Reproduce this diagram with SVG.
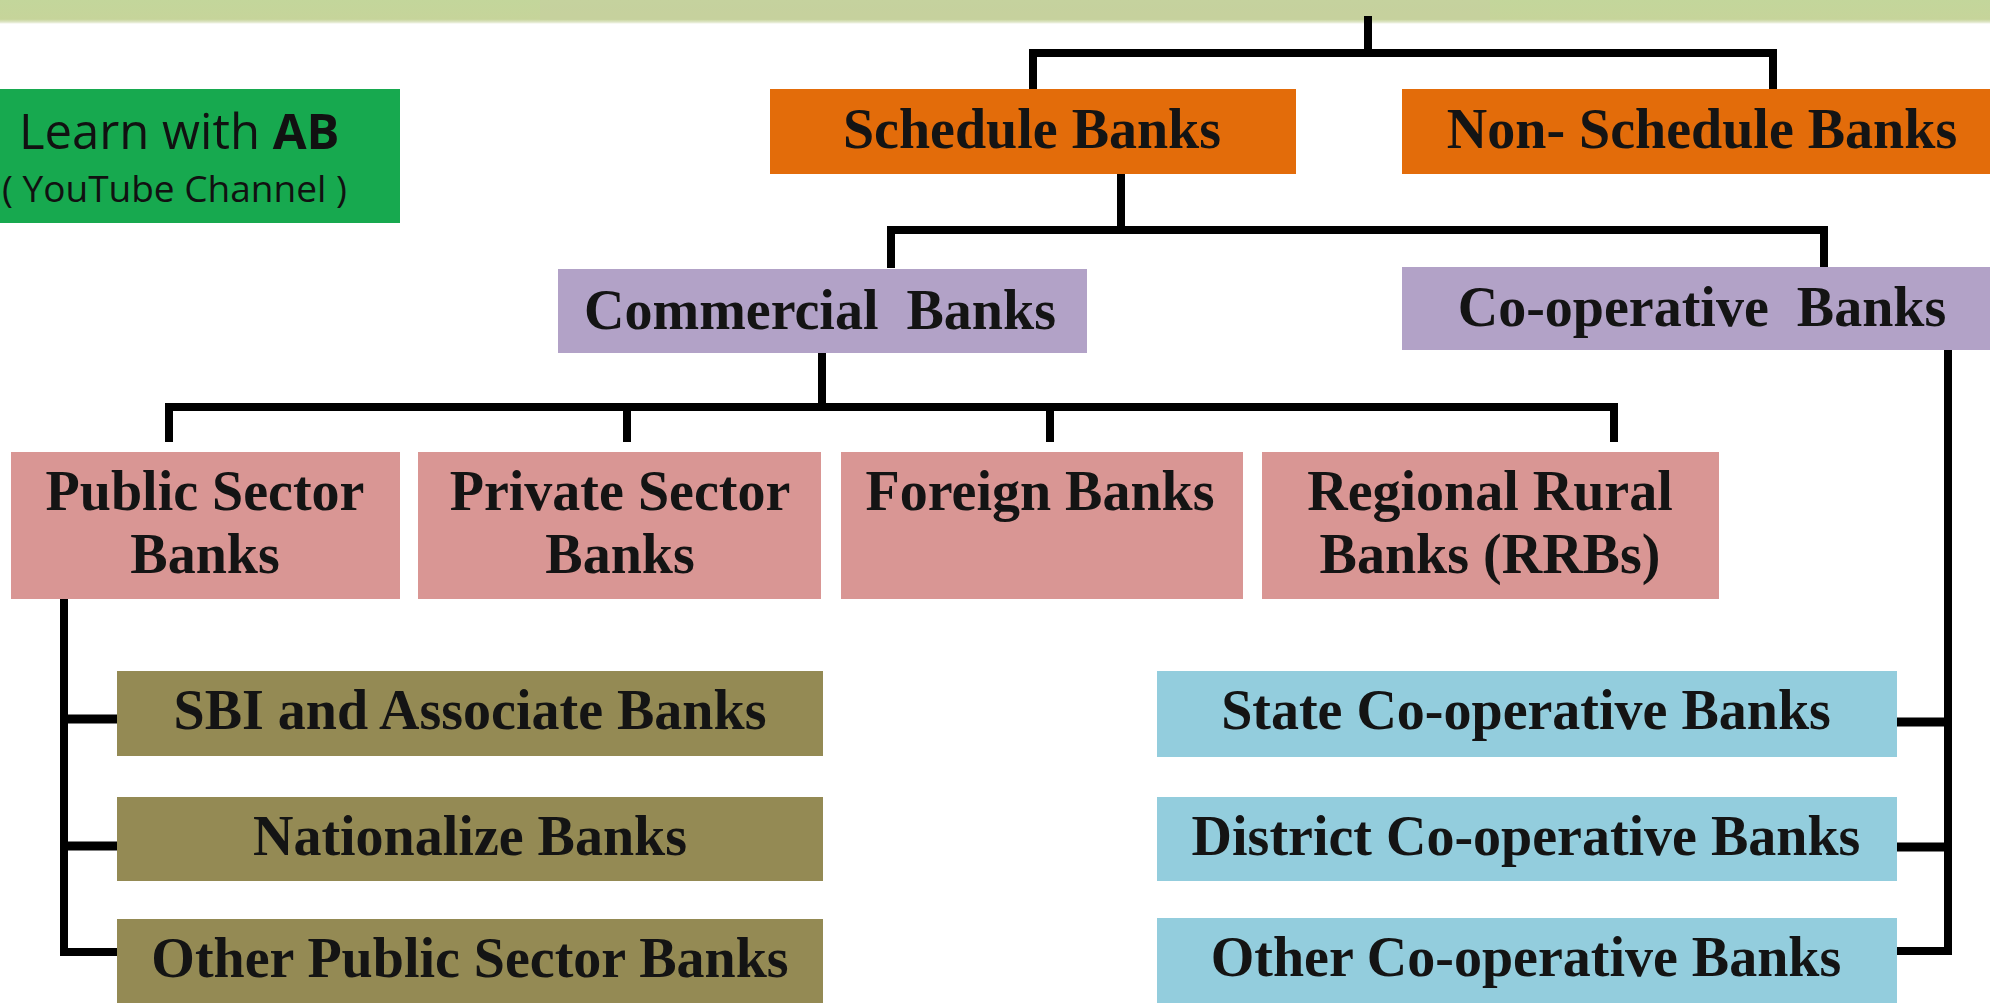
<svg xmlns="http://www.w3.org/2000/svg" width="1990" height="1003" viewBox="0 0 1990 1003">
  <defs>
    <linearGradient id="barFade" x1="0" y1="0" x2="0" y2="1">
      <stop offset="0" stop-color="#c3d69b"/>
      <stop offset="0.8" stop-color="#c6d49a"/>
      <stop offset="0.92" stop-color="#dfe6c8"/>
      <stop offset="1" stop-color="#ffffff"/>
    </linearGradient>
    <style>
      .box { stroke: none; }
      .orange { fill: #e36c0a; }
      .purple { fill: #b2a2c7; }
      .pink { fill: #d99694; }
      .olive { fill: #948a54; }
      .blue { fill: #93cddd; }
      .green { fill: #17a94f; }
      .lbl { font-family: "Liberation Serif", "Times New Roman", serif; font-weight: bold; font-size: 56px; fill: #141414; text-anchor: middle; }
      .sans { font-family: "Open Sans", "Noto Sans", "Liberation Sans", sans-serif; fill: #111; }
      .wire { fill: none; stroke: #000; stroke-width: 8; stroke-linejoin: miter; stroke-linecap: butt; }
      .tick { fill: none; stroke: #000; stroke-width: 9; }
    </style>
  </defs>

  <rect width="1990" height="1003" fill="#ffffff"/>

  <!-- top banner -->
  <g id="banner">
    <rect x="0" y="0" width="1990" height="24" fill="url(#barFade)"/>
    <rect x="540" y="0" width="950" height="20" fill="#c7cfa0" opacity="0.6"/>
  </g>

  <!-- connectors -->
  <g id="connectors">
    <path class="wire" d="M1368,16 V53"/>
    <path class="wire" d="M1033,89 V53 H1773 V89"/>
    <path class="wire" d="M1121,174 V230"/>
    <path class="wire" d="M891,268 V230 H1824 V267"/>
    <path class="wire" d="M822,353 V407"/>
    <path class="wire" d="M169,442 V407 H1614 V442"/>
    <path class="wire" d="M627,407 V442"/>
    <path class="wire" d="M1050,407 V442"/>
    <path class="wire" d="M64,599 V952 H117"/>
    <path class="tick" d="M64,719 H117"/>
    <path class="tick" d="M64,846 H117"/>
    <path class="wire" d="M1948,350 V951 H1897"/>
    <path class="tick" d="M1897,722 H1948"/>
    <path class="tick" d="M1897,847 H1948"/>
  </g>

  <g id="learn-with-ab">
    <rect class="box green" x="-4" y="89" width="404" height="134"/>
    <text class="sans" x="19" y="149" font-size="49">Learn with <tspan font-weight="bold">AB</tspan></text>
    <text class="sans" x="2" y="202" font-size="37">( YouTube Channel )</text>
  </g>

  <g id="schedule-banks">
    <rect class="box orange" x="770" y="89" width="526" height="85"/>
    <text class="lbl" x="1032" y="148">Schedule Banks</text>
  </g>

  <g id="non-schedule-banks">
    <rect class="box orange" x="1402" y="89" width="592" height="85"/>
    <text class="lbl" x="1702" y="148">Non- Schedule Banks</text>
  </g>

  <g id="commercial-banks">
    <rect class="box purple" x="558" y="269" width="529" height="84"/>
    <text class="lbl" x="820" y="329" xml:space="preserve">Commercial  Banks</text>
  </g>

  <g id="co-operative-banks">
    <rect class="box purple" x="1402" y="267" width="592" height="83"/>
    <text class="lbl" x="1702" y="326" xml:space="preserve">Co-operative  Banks</text>
  </g>

  <g id="public-sector-banks">
    <rect class="box pink" x="11" y="452" width="389" height="147"/>
    <text class="lbl" x="205" y="510">Public Sector</text>
    <text class="lbl" x="205" y="573">Banks</text>
  </g>

  <g id="private-sector-banks">
    <rect class="box pink" x="418" y="452" width="403" height="147"/>
    <text class="lbl" x="620" y="510">Private Sector</text>
    <text class="lbl" x="620" y="573">Banks</text>
  </g>

  <g id="foreign-banks">
    <rect class="box pink" x="841" y="452" width="402" height="147"/>
    <text class="lbl" x="1040" y="510">Foreign Banks</text>
  </g>

  <g id="regional-rural-banks">
    <rect class="box pink" x="1262" y="452" width="457" height="147"/>
    <text class="lbl" x="1490" y="510">Regional Rural</text>
    <text class="lbl" x="1490" y="573">Banks (RRBs)</text>
  </g>

  <g id="sbi-associate-banks">
    <rect class="box olive" x="117" y="671" width="706" height="85"/>
    <text class="lbl" x="470" y="729">SBI and Associate Banks</text>
  </g>

  <g id="nationalize-banks">
    <rect class="box olive" x="117" y="797" width="706" height="84"/>
    <text class="lbl" x="470" y="855">Nationalize Banks</text>
  </g>

  <g id="other-public-sector-banks">
    <rect class="box olive" x="117" y="919" width="706" height="90"/>
    <text class="lbl" x="470" y="977">Other Public Sector Banks</text>
  </g>

  <g id="state-co-operative-banks">
    <rect class="box blue" x="1157" y="671" width="740" height="86"/>
    <text class="lbl" x="1526" y="729">State Co-operative Banks</text>
  </g>

  <g id="district-co-operative-banks">
    <rect class="box blue" x="1157" y="797" width="740" height="84"/>
    <text class="lbl" x="1526" y="855">District Co-operative Banks</text>
  </g>

  <g id="other-co-operative-banks">
    <rect class="box blue" x="1157" y="918" width="740" height="90"/>
    <text class="lbl" x="1526" y="976">Other Co-operative Banks</text>
  </g>
</svg>
